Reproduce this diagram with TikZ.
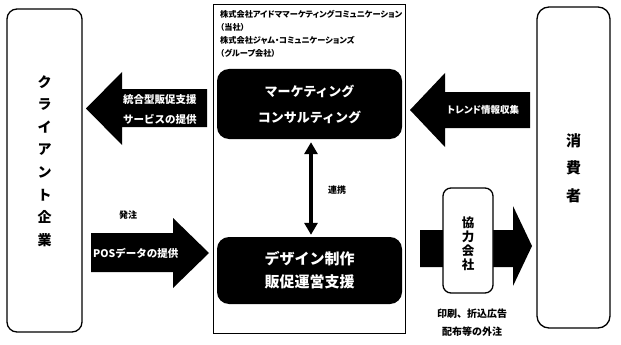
\documentclass[tikz,border=0pt]{standalone}
\usepackage{fontspec}
\setmainfont{Noto Sans CJK JP}
\newfontfamily\jpprop{Noto Sans CJK JP}[RawFeature={+palt}]
\usepackage{tikz}
\usetikzlibrary{positioning,arrows.meta}

\tikzset{
  whitebox/.style={draw=black, line width=1.3pt, fill=white, inner sep=0pt},
  blackbox/.style={fill=black, rounded corners=12pt, inner sep=0pt, text=white,
                   align=center},
  blockarrow/.style={fill=black},
  arrowtext/.style={text=white, inner sep=0pt, align=left},
  smalltext/.style={inner sep=0pt, align=center, font=\bfseries\fontsize{9}{11}\selectfont},
  linkarrow/.style={line width=3.5pt, {Triangle[width=13pt,length=12pt]}-{Triangle[width=13pt,length=12pt]}}
}

\begin{document}
\begin{tikzpicture}[x=1pt, y=-1pt]
  \fill[white] (0,0) rectangle (621,345);
  \useasboundingbox (0,0) rectangle (621,345);

  % client and consumer
  \node[whitebox, rounded corners=10pt, minimum width=75pt, minimum height=323pt] (client) at (44.5,170.5) {};
  \node[inner sep=0pt, align=center, font=\bfseries\fontsize{14}{22.6}\selectfont] (clienttext) at (44.5,161)
    {ク\\ラ\\イ\\ア\\ン\\ト\\企\\業};
  \node[whitebox, rounded corners=12pt, minimum width=73pt, minimum height=321pt] (consumer) at (573.5,167.5) {};
  \node[inner sep=0pt, align=center, font=\bfseries\fontsize{15}{27.5}\selectfont] (consumertext) at (573.5,168)
    {消\\費\\者};

  % centre frame
  \node[draw=black, line width=1pt, inner sep=0pt, minimum width=192pt, minimum height=328pt] (frame) at (309,169) {};
  \node[anchor=north west, inner sep=0pt, align=left, font=\jpprop\bfseries\fontsize{8.2}{13}\selectfont] (company) at (220,10)
    {株式会社アイドママーケティングコミュニケーション\\（当社）\\株式会社ジャム・コミュニケーションズ\\（グループ会社）};
  \node[blackbox, minimum width=185pt, minimum height=70pt, font=\bfseries\fontsize{13}{26}\selectfont] (mkt) at (309.5,104)
    {マーケティング\\コンサルティング};
  \node[blackbox, minimum width=185pt, minimum height=67pt, font=\bfseries\fontsize{15}{23}\selectfont] (dsn) at (309.5,270.5)
    {デザイン制作\\販促運営支援};
  \draw[linkarrow] ([xshift=1.5pt,yshift=-3pt]mkt.south) -- ([xshift=1.5pt,yshift=2pt]dsn.north);
  \node[smalltext] (link) at (337,190) {連携};

  % block arrows, left side
  \fill[blockarrow] (207,89) -- (122,89) -- (122,72) -- (86,108.5) -- (122,145) -- (122,127) -- (207,127) -- cycle;
  \node[arrowtext, anchor=west, font=\bfseries\fontsize{10.5}{20}\selectfont] (service) at (123,110)
    {統合型販促支援\\サービスの提供};
  \fill[blockarrow] (91,233) -- (173,233) -- (173,218) -- (209,253) -- (173,288) -- (173,272) -- (91,272) -- cycle;
  \node[arrowtext, anchor=west, font=\bfseries\fontsize{10.5}{13}\selectfont] (pos) at (93,253) {POSデータの提供};
  \node[smalltext] (order) at (128,215) {発注};

  % block arrows, right side
  \fill[blockarrow] (530,92) -- (445,92) -- (445,73) -- (410,110) -- (445,147) -- (445,128) -- (530,128) -- cycle;
  \node[arrowtext, anchor=west, font=\jpprop\bfseries\fontsize{9.5}{12}\selectfont] (trend) at (447,110) {トレンド情報収集};
  \fill[blockarrow] (420,230) -- (513,230) -- (513,206) -- (532,246) -- (513,286) -- (513,267) -- (420,267) -- cycle;
  \node[whitebox, rounded corners=8pt, minimum width=50pt, minimum height=105pt] (partner) at (468,240.5) {};
  \node[inner sep=0pt, align=center, font=\bfseries\fontsize{12.5}{14}\selectfont] (partnertext) at (468,244)
    {協\\力\\会\\社};
  \node[inner sep=0pt, align=center, font=\bfseries\fontsize{10}{18}\selectfont] (outsource) at (472,323)
    {印刷、折込広告\\配布等の外注};
\end{tikzpicture}
\end{document}
